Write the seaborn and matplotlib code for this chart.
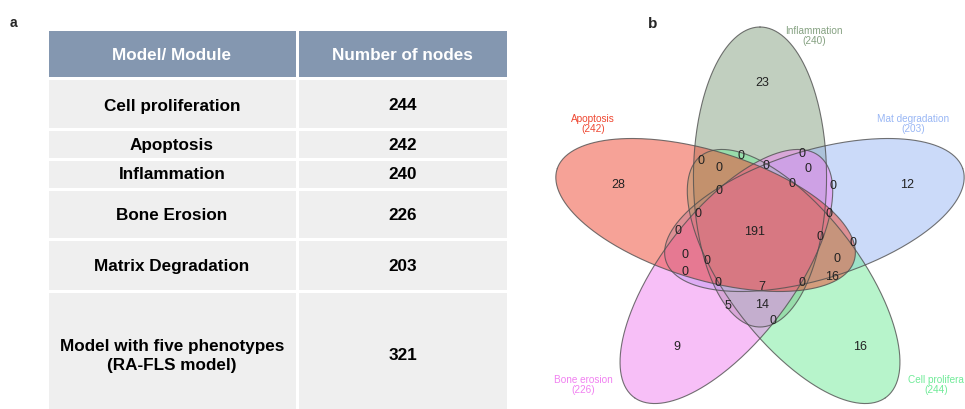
import numpy as np
import matplotlib
matplotlib.use('Agg')
import matplotlib.pyplot as plt
from matplotlib.patches import Rectangle
import seaborn as sns

sns.set_style('white')
plt.rcParams['font.family'] = ['Liberation Sans', 'DejaVu Sans']

# ---- panel a: table data
table_header = ['Model/ Module', 'Number of nodes']
modules = ['Cell proliferation', 'Apoptosis', 'Inflammation', 'Bone Erosion',
           'Matrix Degradation', 'Model with five phenotypes\n(RA-FLS model)']
node_counts = [244, 242, 240, 226, 203, 321]

# ---- panel b: venn data
set_names = ['Inflammation', 'Apoptosis', 'Bone erosion', 'Cell prolifera', 'Mat degradation']
set_sizes = [240, 242, 226, 244, 203]
set_colors = ['#85a181', '#ef4731', '#f181f1', '#71eb99', '#99b7f5']
region_counts = [23, 28, 9, 16, 12, 191, 7, 14, 5, 16,
                 0, 0, 0, 0, 0, 0, 0, 0, 0,
                 0, 0, 0, 0, 0, 0, 0, 0, 0, 0, 0, 0]

# layout (pixel coords of the 965x410 canvas)
row_edges = [30, 79, 130, 160, 190, 240, 292, 414]
row_text_y = [55, 106, 146, 175, 216, 267, 356]
col_edges = [47, 297, 508]
region_xy = [(762, 83), (618, 185), (677, 347), (860, 347), (907, 185),
             (755, 232), (762, 287), (762, 305), (728, 306), (832, 277),
             (701, 161), (719, 168), (741, 156), (766, 166), (802, 154),
             (808, 169), (792, 184), (833, 186), (719, 191),
             (698, 214), (829, 214), (678, 231), (820, 237), (853, 243),
             (685, 255), (707, 261), (837, 259), (685, 272), (718, 283),
             (802, 283), (773, 321)]
label_xy = [(814, 36), (593, 124), (583, 385), (936, 385), (913, 124)]
angles = [90, 162, 234, 306, 18]
draw_order = [0, 4, 3, 2, 1]
cx0, cy0, dist, a, b, sx = 760, 233, 55, 150, 64, 1.04

fig = plt.figure(figsize=(9.65, 4.10), dpi=100)
ax = fig.add_axes([0, 0, 1, 1])
ax.set_xlim(0, 965)
ax.set_ylim(410, 0)
ax.axis('off')

# table
header_col = '#8497b0'
body_col = '#efefef'
gap = 1.5
for r in range(len(row_edges) - 1):
    for c in range(2):
        x0, x1 = col_edges[c] + gap, col_edges[c + 1] - gap
        y0, y1 = row_edges[r] + gap, row_edges[r + 1] - gap
        ax.add_patch(Rectangle((x0, y0), x1 - x0, y1 - y0, lw=0,
                               fc=header_col if r == 0 else body_col))
col_mid = [(col_edges[0] + col_edges[1]) / 2, (col_edges[1] + col_edges[2]) / 2]
for c in range(2):
    ax.text(col_mid[c], row_text_y[0], table_header[c], ha='center', va='center',
            fontsize=12.3, fontweight='bold', color='white')
for i, (m, n) in enumerate(zip(modules, node_counts)):
    ax.text(col_mid[0], row_text_y[i + 1], m, ha='center', va='center',
            fontsize=12.3, fontweight='bold', color='black', linespacing=1.3)
    ax.text(col_mid[1], row_text_y[i + 1], str(n), ha='center', va='center',
            fontsize=12.3, fontweight='bold', color='black')

ax.text(13, 23, 'a', fontsize=10, fontweight='bold', ha='center', va='center')
ax.text(653, 24, 'b', fontsize=11, fontweight='bold', ha='center', va='center')


# venn ellipses
def ellipse_xy(ang_deg):
    ang = np.deg2rad(ang_deg)
    t = np.linspace(0, 2 * np.pi, 400)
    ex = a * np.cos(t) * np.cos(ang) - b * np.sin(t) * np.sin(ang)
    ey = a * np.cos(t) * np.sin(ang) + b * np.sin(t) * np.cos(ang)
    cx = cx0 + dist * np.cos(ang) * sx
    cy = cy0 - dist * np.sin(ang)
    return cx + ex * sx, cy - ey


for i in draw_order:
    x, y = ellipse_xy(angles[i])
    ax.fill(x, y, color=set_colors[i], alpha=0.5, lw=0)
for i in draw_order:
    x, y = ellipse_xy(angles[i])
    ax.plot(x, y, color='#505050', lw=0.8, alpha=0.8)

for cnt, (x, y) in zip(region_counts, region_xy):
    ax.text(x, y, str(cnt), ha='center', va='center', fontsize=9, color='#222222')

for name, size, col, (x, y) in zip(set_names, set_sizes, set_colors, label_xy):
    ax.text(x, y, f'{name}\n({size})', ha='center', va='center', fontsize=7.2,
            color=col, linespacing=0.95)

fig.savefig('out.png', dpi=100)
